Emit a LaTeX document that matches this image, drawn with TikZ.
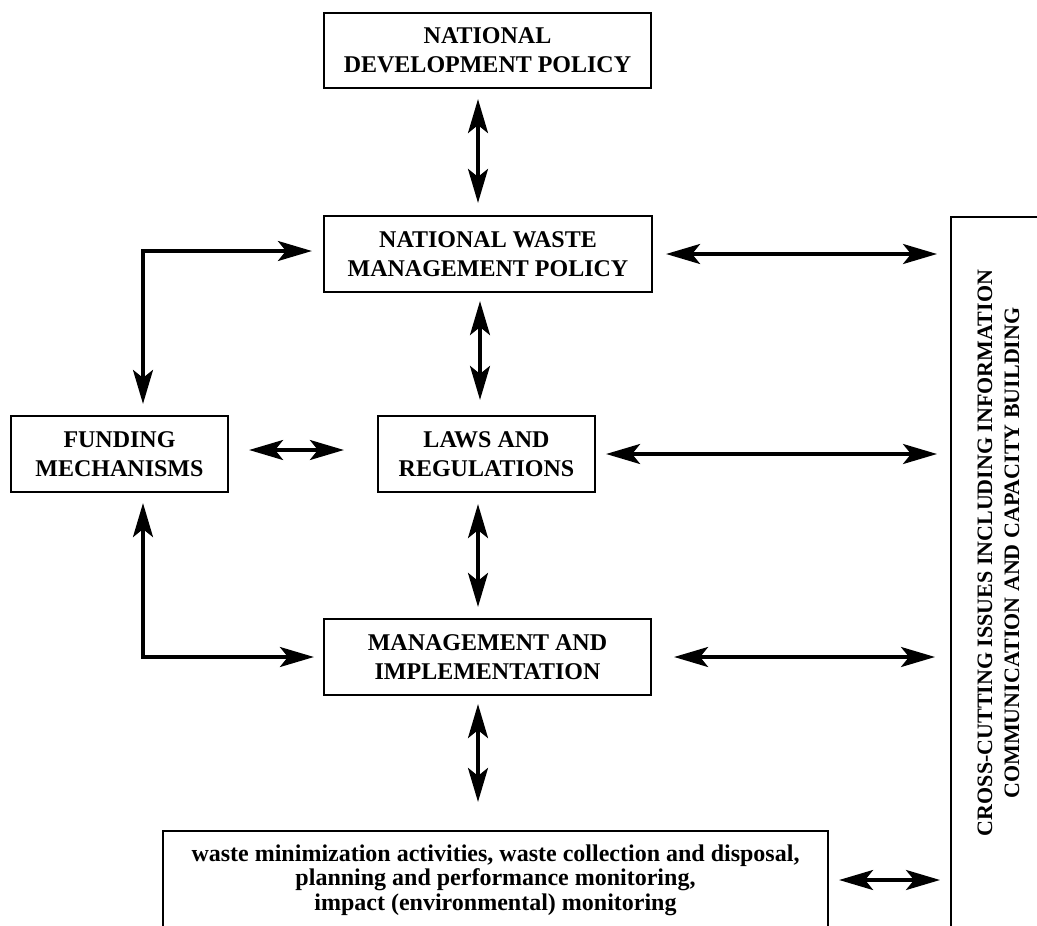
\documentclass[tikz,border=0pt]{standalone}
\usepackage{fontspec}
\setmainfont{Liberation Serif}
\usepackage{tikz}
\usetikzlibrary{positioning, arrows.meta, calc}
\tikzstyle{block} = [draw, line width=2.2pt, align=center, inner sep=0pt, font=\bfseries\fontsize{24}{29}\selectfont]
\tikzstyle{link} = [line width=3.3pt, <->, >={Stealth[length=34pt, width=20pt, inset=8pt]}]

\begin{document}
\begin{tikzpicture}[x=1pt, y=-1pt]
    \useasboundingbox (0,0) rectangle (1037,926);
    \clip (0,0) rectangle (1037,926);

    % Policy chain
    \node[block, minimum width=327pt, minimum height=75pt] (ndp) at (487.5,50.5) {NATIONAL\\DEVELOPMENT POLICY};
    \node[block, minimum width=328pt, minimum height=76pt] (nwmp) at (488,254) {NATIONAL WASTE\\MANAGEMENT POLICY};
    \node[block, minimum width=217pt, minimum height=76pt] (funding) at (119.5,454) {FUNDING\\MECHANISMS};
    \node[block, minimum width=217pt, minimum height=76pt] (laws) at (486.5,454) {LAWS AND\\REGULATIONS};
    \node[block, minimum width=327pt, minimum height=76pt] (mgmt) at (487.5,657) {MANAGEMENT AND\\IMPLEMENTATION};

    % Activities
    \node[block, minimum width=665pt, minimum height=98pt, font=\bfseries\fontsize{24}{24.5}\selectfont] (tasks) at (495.5,880)
        {waste minimization activities, waste collection and disposal,\\
         planning and performance monitoring,\\
         impact (environmental) monitoring};

    % Cross-cutting issues
    \node[draw, line width=2.2pt, minimum width=130pt, minimum height=740pt, anchor=north west] (cross) at (950,216) {};
    \node[rotate=90, align=center, font=\bfseries\fontsize{22}{27}\selectfont] (crosstext) at (998.5,553)
        {CROSS-CUTTING ISSUES INCLUDING INFORMATION\\COMMUNICATION AND CAPACITY BUILDING};

    % Vertical links
    \draw[link, shorten <=10pt, shorten >=12pt] ([xshift=-9.5pt]ndp.south) -- ([xshift=-10pt]nwmp.north);
    \draw[link, shorten <=8pt, shorten >=15pt] ([xshift=-8pt]nwmp.south) -- ([xshift=-6.5pt]laws.north);
    \draw[link, shorten <=11pt, shorten >=11pt] ([xshift=-8.5pt]laws.south) -- ([xshift=-9.5pt]mgmt.north);
    \draw[link, shorten <=8pt, shorten >=28pt] ([xshift=-9.5pt]mgmt.south) -- ([xshift=-17.5pt]tasks.north);

    % Funding links
    \draw[link, shorten <=20pt, shorten >=33pt] ([yshift=4pt]funding.east) -- ([yshift=4pt]laws.west);
    \draw[link, shorten <=11pt, shorten >=11pt] ([xshift=23.5pt]funding.north) |- ([yshift=3pt]nwmp.west);
    \draw[link, shorten <=10pt, shorten >=9pt] ([xshift=23.5pt]funding.south) |- (mgmt.west);

    % Links to cross-cutting issues
    \draw[link, shorten <=13pt, shorten >=13pt] (nwmp.east) -- (cross.west |- nwmp.east);
    \draw[link, shorten <=10pt, shorten >=13pt] (laws.east) -- (cross.west |- laws.east);
    \draw[link, shorten <=22pt, shorten >=15pt] (mgmt.east) -- (cross.west |- mgmt.east);
    \draw[link, shorten <=10pt, shorten >=10pt] (tasks.east) -- (cross.west |- tasks.east);
\end{tikzpicture}
\end{document}
